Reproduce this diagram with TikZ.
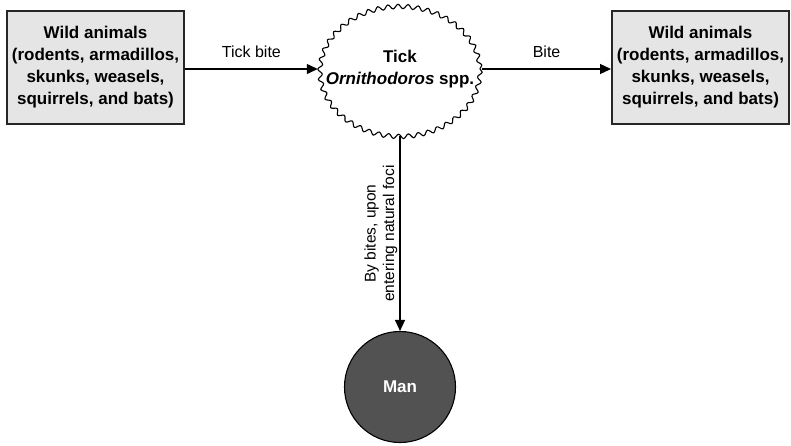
\documentclass[tikz,border=0pt]{standalone}
\usepackage{fontspec}
\setmainfont{Liberation Sans}
\usetikzlibrary{shapes.geometric,arrows.meta,decorations.pathmorphing}
\begin{document}
\begin{tikzpicture}[x=1pt,y=-1pt,
  animalbox/.style={draw=black!85,line width=2pt,fill=black!10,minimum width=177pt,minimum height=113pt,
    align=center,font=\fontsize{17}{22}\selectfont\bfseries,inner sep=0pt},
  lbl/.style={font=\fontsize{16}{19}\selectfont},
  conn/.style={line width=1.2pt,-{Triangle[length=11pt,width=10pt]}}]
\useasboundingbox (0,0) rectangle (791,445);
\node[animalbox] (wl) at (95.5,67.5) {Wild animals\\(rodents, armadillos,\\skunks, weasels,\\squirrels, and bats)};
\node[animalbox] (wr) at (700.5,67.5) {Wild animals\\(rodents, armadillos,\\skunks, weasels,\\squirrels, and bats)};
\draw[line width=1.1pt,fill=white,decorate,decoration={snake,segment length=10pt,amplitude=2.2pt}]
  (400,69) ellipse [x radius=80, y radius=65];
\node[ellipse,minimum width=164pt,minimum height=134pt,inner sep=0pt] (tick) at (400,69) {};
\node[align=center,font=\fontsize{17}{22}\selectfont\bfseries] (ticktext) at (tick.center) {Tick\\\textit{Ornithodoros} spp.};
\node[circle,draw=black,line width=1.1pt,fill=black!68,minimum size=111pt,inner sep=0pt,
  font=\fontsize{17}{20}\selectfont\bfseries,text=white] (man) at (400,387) {Man};
\draw[conn] (wl.east |- 0,69) -- (tick.west) node[midway,above=7pt,lbl] {Tick bite};
\draw[conn] (tick.east) -- (wr.west |- 0,69) node[midway,above=7pt,lbl] {Bite};
\draw[conn] (tick.south) -- (man.north) node[pos=0.5,rotate=90,lbl,align=center,anchor=south,
  font=\fontsize{15.5}{18.5}\selectfont,inner sep=2pt] {By bites, upon\\entering natural foci};
\end{tikzpicture}
\end{document}
